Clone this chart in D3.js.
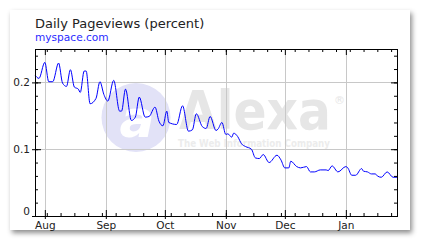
<!DOCTYPE html>
<html>
<head>
<meta charset="utf-8">
<script src="https://cdn.jsdelivr.net/npm/d3@7"></script>
<style>
body { margin: 0; background: #fff; }
#panel { position: absolute; left: 10px; top: 10px; width: 400px; height: 220px; background: #fff; box-shadow: 2px 3px 5px rgba(0,0,0,0.45); }
svg { position: absolute; left: 0; top: 0; }
.axis text { font-family: "DejaVu Sans", Verdana, sans-serif; font-size: 10.5px; fill: #222; }
.axis line { stroke: #000; }
</style>
</head>
<body>
<div id="panel"></div>
<script>
var width = 422;
var height = 244;

// data: days after startDate, share of pageviews
var startDate = new Date(2007, 6, 27);
var endDate = new Date(2008, 0, 27);
var days = [0, 2, 5, 7, 9, 12, 14, 16, 18, 20, 22, 23, 25, 26, 28, 31, 33, 35, 37, 40,
    43, 44, 46, 49, 51, 53, 56, 58, 61, 63, 65, 67, 68, 72, 75, 78, 80, 82, 85, 87,
    89, 92, 93, 95, 97, 98, 100, 101, 103, 105, 107, 110, 112, 114, 116, 119, 123, 125, 127, 129,
    130, 133, 135, 138, 140, 142, 145, 148, 149, 151, 154, 158, 159, 161, 163, 166, 167, 169, 171, 173,
    174, 176, 179, 182, 184];
var pageviews = [0.211, 0.206, 0.230, 0.201, 0.201, 0.229, 0.199, 0.194, 0.219, 0.193, 0.190, 0.185, 0.217, 0.217, 0.168, 0.176, 0.201, 0.182, 0.172, 0.203,
    0.157, 0.157, 0.190, 0.143, 0.148, 0.178, 0.148, 0.149, 0.163, 0.142, 0.135, 0.157, 0.140, 0.137, 0.165, 0.127, 0.129, 0.153, 0.134, 0.131,
    0.149, 0.128, 0.130, 0.140, 0.122, 0.123, 0.118, 0.124, 0.119, 0.108, 0.104, 0.100, 0.087, 0.086, 0.092, 0.080, 0.091, 0.084, 0.072, 0.072,
    0.082, 0.074, 0.072, 0.074, 0.066, 0.066, 0.069, 0.069, 0.068, 0.075, 0.066, 0.074, 0.072, 0.061, 0.061, 0.071, 0.067, 0.066, 0.063, 0.063,
    0.060, 0.058, 0.066, 0.058, 0.058];
var yLabels = [0, 0.1, 0.2];
var yGrid = [0.1, 0.2];

var svg = d3.select("body")
    .append("svg")
    .attr("width", width)
    .attr("height", height);

var plot = { left: 35, right: 397, top: 49, bottom: 216 };

var xScale = d3.scaleTime()
    .domain([startDate, endDate])
    .range([plot.left, plot.right]);

var yScale = d3.scaleLinear()
    .domain([0, 0.25])
    .range([plot.bottom, plot.top]);

var months = d3.timeMonth.range(d3.timeMonth.ceil(startDate), endDate);
var weeks = d3.timeThursday.range(startDate, endDate);
var yMinor = d3.range(0.02, 0.25, 0.02);

// title
svg.append("text")
    .attr("x", 35)
    .attr("y", 28)
    .attr("font-family", "DejaVu Sans, Verdana, sans-serif")
    .attr("font-size", "13px")
    .attr("fill", "#222")
    .text("Daily Pageviews (percent)");

svg.append("text")
    .attr("x", 35)
    .attr("y", 41)
    .attr("font-family", "DejaVu Sans, Verdana, sans-serif")
    .attr("font-size", "10.6px")
    .attr("fill", "#2a2aff")
    .text("myspace.com");

// watermark
var wm = svg.append("g");
wm.append("circle")
    .attr("cx", 136)
    .attr("cy", 117.5)
    .attr("r", 34.5)
    .attr("fill", "#e2e2f7");
wm.append("text")
    .attr("x", 137)
    .attr("y", 137)
    .attr("text-anchor", "middle")
    .attr("font-family", "DejaVu Sans, sans-serif")
    .attr("font-style", "italic")
    .attr("font-weight", "bold")
    .attr("font-size", "52px")
    .attr("fill", "#fff")
    .text("a");
wm.append("text")
    .attr("x", 179)
    .attr("y", 129)
    .attr("font-family", "DejaVu Sans, sans-serif")
    .attr("font-weight", "bold")
    .attr("font-size", "54px")
    .attr("textLength", 152)
    .attr("lengthAdjust", "spacingAndGlyphs")
    .attr("fill", "#e6e6e6")
    .text("Alexa");
wm.append("text")
    .attr("x", 334)
    .attr("y", 104)
    .attr("font-family", "DejaVu Sans, sans-serif")
    .attr("font-size", "11px")
    .attr("fill", "#e6e6e6")
    .text("\u00ae");
wm.append("text")
    .attr("x", 178)
    .attr("y", 147)
    .attr("font-family", "DejaVu Sans, sans-serif")
    .attr("font-weight", "bold")
    .attr("font-size", "11px")
    .attr("textLength", 152)
    .attr("lengthAdjust", "spacingAndGlyphs")
    .attr("fill", "#ececec")
    .text("The Web Information Company");

// grid
svg.append("g").selectAll("line")
    .data(months)
    .enter()
    .append("line")
    .attr("x1", function (d) { return Math.round(xScale(d)) + 0.5; })
    .attr("x2", function (d) { return Math.round(xScale(d)) + 0.5; })
    .attr("y1", plot.top)
    .attr("y2", plot.bottom)
    .attr("stroke", "#c8c8c8");

svg.append("g").selectAll("line")
    .data(yGrid)
    .enter()
    .append("line")
    .attr("x1", plot.left)
    .attr("x2", plot.right)
    .attr("y1", function (d) { return Math.round(yScale(d)) + 0.5; })
    .attr("y2", function (d) { return Math.round(yScale(d)) + 0.5; })
    .attr("stroke", "#c8c8c8");

// line
var points = days.map(function (d, i) {
    return { date: d3.timeDay.offset(startDate, d), value: pageviews[i] };
});

var line = d3.line()
    .x(function (d) { return xScale(d.date); })
    .y(function (d) { return yScale(d.value); })
    .curve(d3.curveMonotoneX);

svg.append("path")
    .datum(points)
    .attr("d", line)
    .attr("fill", "none")
    .attr("stroke", "#0000ff")
    .attr("stroke-width", 1);

// axes
function addAxis(axis, tx, ty) {
    var g = svg.append("g")
        .attr("class", "axis")
        .attr("transform", "translate(" + tx + "," + ty + ")")
        .call(axis);
    g.select(".domain").remove();
    return g;
}

addAxis(d3.axisBottom(xScale).tickValues(weeks).tickSize(-3).tickFormat(""), 0, plot.bottom);
addAxis(d3.axisBottom(xScale).tickValues(months).tickSize(-6).tickFormat(""), 0, plot.bottom);
addAxis(d3.axisBottom(xScale).tickValues(months).tickSize(3).tickPadding(3).tickFormat(d3.timeFormat("%b")), 0, plot.bottom);

addAxis(d3.axisTop(xScale).tickValues(weeks).tickSize(-3).tickFormat(""), 0, plot.top);
addAxis(d3.axisTop(xScale).tickValues(months).tickSize(-6).tickFormat(""), 0, plot.top);

addAxis(d3.axisLeft(yScale).tickValues(yMinor).tickSize(-3).tickFormat(""), plot.left, 0);
addAxis(d3.axisLeft(yScale).tickValues(yLabels).tickSize(-6).tickFormat(""), plot.left, 0);
var yAxisG = addAxis(d3.axisLeft(yScale).tickValues(yLabels).tickSize(3).tickPadding(2)
    .tickFormat(function (d) { return d === 0 ? "0" : d3.format(".1f")(d); }), plot.left, 0);
yAxisG.selectAll("text")
    .attr("dy", function (d) { return d === 0 ? "-0.1em" : "0.32em"; });

addAxis(d3.axisRight(yScale).tickValues(yMinor).tickSize(-3).tickFormat(""), plot.right, 0);
addAxis(d3.axisRight(yScale).tickValues(yLabels).tickSize(-6).tickFormat(""), plot.right, 0);

// frame
svg.append("rect")
    .attr("x", plot.left + 0.5)
    .attr("y", plot.top + 0.5)
    .attr("width", plot.right - plot.left)
    .attr("height", plot.bottom - plot.top)
    .attr("fill", "none")
    .attr("stroke", "#000");
</script>
</body>
</html>
